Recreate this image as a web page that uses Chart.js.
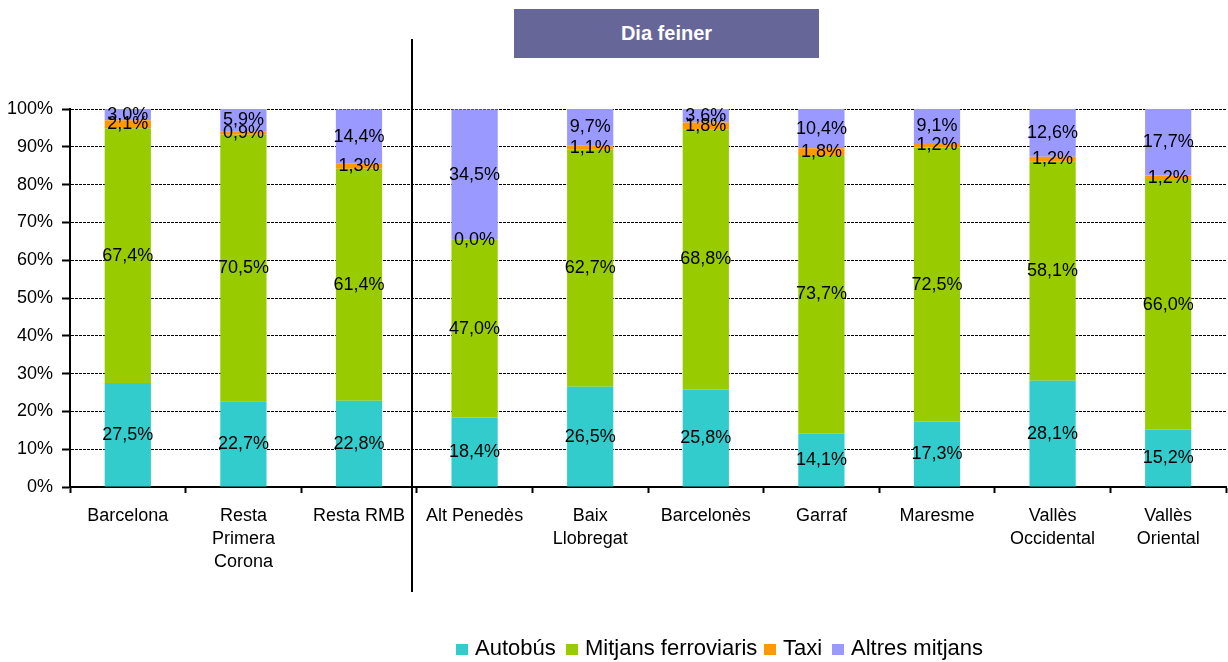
<!DOCTYPE html>
<html>
<head>
<meta charset="utf-8">
<script src="https://cdn.jsdelivr.net/npm/chart.js@4"></script>
<style>
  body { margin: 0; background: #fff; font-family: 'Liberation Sans', Arial, sans-serif; }
  #wrap { position: relative; width: 1228px; height: 662px; }
  #title { position: absolute; left: 514px; top: 9px; width: 305px; height: 49px; background: #666699;
           color: #fff; font-weight: bold; font-size: 20px; line-height: 49px; text-align: center; }
  #sep { position: absolute; left: 411px; top: 39px; width: 2px; height: 553px; background: #000; }
  .leg { position: absolute; top: 636px; font-size: 22px; line-height: 24px; color: #000; white-space: nowrap; }
  .leg i { position: absolute; width: 12px; height: 11px; left: -19px; top: 8px; }
</style>
</head>
<body>
<div id="wrap">
  <canvas id="chart" width="1228" height="662"></canvas>
  <div id="title">Dia feiner</div>
  <div id="sep"></div>
  <div id="legend"></div>
</div>
<script>
const categories = ['Barcelona', ['Resta', 'Primera', 'Corona'], 'Resta RMB', 'Alt Penedès',
  ['Baix', 'Llobregat'], 'Barcelonès', 'Garraf', 'Maresme', ['Vallès', 'Occidental'], ['Vallès', 'Oriental']];
const seriesNames = ['Autobús', 'Mitjans ferroviaris', 'Taxi', 'Altres mitjans'];
const autobus = [27.5, 22.7, 22.8, 18.4, 26.5, 25.8, 14.1, 17.3, 28.1, 15.2];
const ferroviaris = [67.4, 70.5, 61.4, 47.0, 62.7, 68.8, 73.7, 72.5, 58.1, 66.0];
const taxi = [2.1, 0.9, 1.3, 0.0, 1.1, 1.8, 1.8, 1.2, 1.2, 1.2];
const altres = [3.0, 5.9, 14.4, 34.5, 9.7, 3.6, 10.4, 9.1, 12.6, 17.7];
const yTicks = [0, 10, 20, 30, 40, 50, 60, 70, 80, 90, 100];

const colors = ['#33CCCC', '#99CC00', '#FF9900', '#9999FF'];
const legendLeft = [475, 585, 783, 851];
const FONT = "'Liberation Sans', Arial, sans-serif";

// legend as html
const legend = document.getElementById('legend');
seriesNames.forEach((name, i) => {
  legend.innerHTML += `<div class="leg" style="left:${legendLeft[i]}px"><i style="background:${colors[i]}"></i>${name}</div>`;
});

const fmt = v => v.toFixed(1).replace('.', ',') + '%';

// value labels centred in each segment
const segLabels = {
  id: 'segLabels',
  afterDatasetsDraw(chart) {
    const ctx = chart.ctx;
    ctx.save();
    ctx.font = `18px ${FONT}`;
    ctx.fillStyle = '#000';
    ctx.textAlign = 'center';
    ctx.textBaseline = 'middle';
    chart.data.datasets.forEach((ds, di) => {
      chart.getDatasetMeta(di).data.forEach((bar, i) => {
        ctx.fillText(fmt(ds.data[i]), bar.x, (bar.y + bar.base) / 2);
      });
    });
    ctx.restore();
  }
};

new Chart(document.getElementById('chart'), {
  type: 'bar',
  data: {
    labels: categories,
    datasets: [autobus, ferroviaris, taxi, altres].map((d, i) => ({
      label: seriesNames[i],
      data: d,
      backgroundColor: colors[i],
      borderWidth: 0,
      barPercentage: 0.4,
      categoryPercentage: 1
    }))
  },
  options: {
    responsive: false,
    animation: false,
    layout: { padding: { top: 109, right: 2, bottom: 0, left: 0 } },
    plugins: { legend: { display: false }, tooltip: { enabled: false } },
    scales: {
      x: {
        stacked: true,
        afterFit: s => { s.height = 175; },
        grid: { display: true, drawOnChartArea: false, drawTicks: true, offset: true,
                tickLength: 6, tickWidth: 2, tickColor: '#000' },
        border: { display: true, color: '#000', width: 2 },
        ticks: { color: '#000', font: { family: FONT, size: 18, lineHeight: 1.3 },
                 padding: 11, autoSkip: false, maxRotation: 0 }
      },
      y: {
        stacked: true,
        min: 0,
        max: 100,
        afterFit: s => { s.width = 70; },
        afterBuildTicks: s => { s.ticks = yTicks.map(v => ({ value: v })); },
        grid: { color: '#000', lineWidth: 1, drawTicks: true, tickLength: 8,
                tickWidth: 2, tickColor: '#000', tickBorderDash: [] },
        border: { display: true, color: '#000', width: 2, dash: [3, 1] },
        ticks: { color: '#000', font: { family: FONT, size: 18 }, padding: 9,
                 callback: v => v + '%' }
      }
    }
  },
  plugins: [segLabels]
});
</script>
</body>
</html>
